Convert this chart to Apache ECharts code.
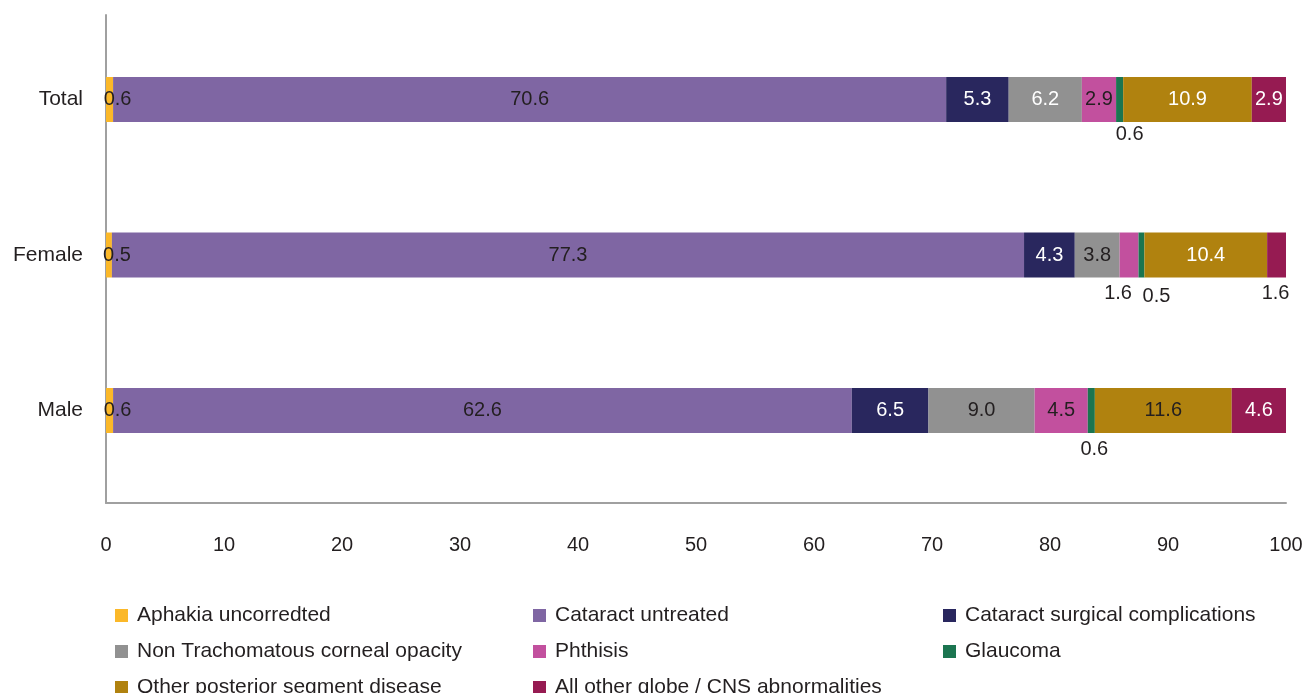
<!DOCTYPE html>
<html>
<head>
<meta charset="utf-8">
<script src="https://cdn.jsdelivr.net/npm/echarts@6/dist/echarts.min.js"></script>
<style>
html,body{margin:0;padding:0;background:#fff;}
#chart{width:1306px;height:693px;}
</style>
</head>
<body>
<div id="chart"></div>
<script>
// ---- data ----
const categories = ['Male', 'Female', 'Total'];
const xTicks = [0, 10, 20, 30, 40, 50, 60, 70, 80, 90, 100];
const seriesNames = [
  'Aphakia uncorredted',
  'Cataract untreated',
  'Cataract surgical complications',
  'Non Trachomatous corneal opacity',
  'Phthisis',
  'Glaucoma',
  'Other posterior segment disease',
  'All other globe / CNS abnormalities'
];
const aphakia = [0.6, 0.5, 0.6];
const cataractUntreated = [62.6, 77.3, 70.6];
const surgicalComplications = [6.5, 4.3, 5.3];
const cornealOpacity = [9.0, 3.8, 6.2];
const phthisis = [4.5, 1.6, 2.9];
const glaucoma = [0.6, 0.5, 0.6];
const posteriorSegment = [11.6, 10.4, 10.9];
const otherGlobe = [4.6, 1.6, 2.9];

// ---- styling ----
const colors = ['#FBB829', '#7F66A3', '#29275E', '#919191', '#C2509E', '#1B7550', '#B0820F', '#961B52'];
const DARK = '#231F20';
const WHITE = '#FFFFFF';
const FONT = 'Liberation Sans, Arial, sans-serif';

const inside = (color, offset) => ({ show: true, position: 'inside', color: color, offset: offset || [0, 0] });
const below = (dx, dist) => ({ show: true, position: 'bottom', distance: dist, color: DARK, offset: [dx, 0] });

// label styles per series per category (Male, Female, Total)
const labelSpecs = [
  [inside(DARK, [8, 0]), inside(DARK, [8, 0]), inside(DARK, [8, 0])],
  [inside(DARK), inside(DARK), inside(DARK)],
  [inside(WHITE), inside(WHITE), inside(WHITE)],
  [inside(DARK), inside(DARK), inside(WHITE)],
  [inside(DARK), below(-11, 6), inside(DARK)],
  [below(3, 6), below(15, 9), below(10, 2)],
  [inside(DARK), inside(WHITE), inside(WHITE)],
  [inside(WHITE), below(-1, 6), inside(WHITE)]
];
const seriesValues = [aphakia, cataractUntreated, surgicalComplications, cornealOpacity, phthisis, glaucoma, posteriorSegment, otherGlobe];

const series = seriesNames.map((name, i) => ({
  name: name,
  type: 'bar',
  stack: 'all',
  xAxisIndex: 0,
  yAxisIndex: 0,
  barWidth: 45,
  itemStyle: { color: colors[i] },
  label: { fontSize: 20, fontFamily: FONT, formatter: p => Number(p.value).toFixed(1) },
  emphasis: { disabled: true },
  data: seriesValues[i].map((v, j) => ({ value: v, label: labelSpecs[i][j] }))
}));

const legendCols = [
  [seriesNames[0], seriesNames[3], seriesNames[6]],
  [seriesNames[1], seriesNames[4], seriesNames[7]],
  [seriesNames[2], seriesNames[5]]
];
const legendLefts = [115, 533, 943];
const legends = legendCols.map((d, k) => ({
  data: d,
  orient: 'vertical',
  left: legendLefts[k],
  top: 605,
  height: 150,
  padding: 0,
  icon: 'rect',
  itemWidth: 13,
  itemHeight: 13,
  itemGap: 15,
  selectedMode: false,
  textStyle: { fontSize: 21, fontFamily: FONT, color: DARK, lineHeight: 20, padding: [0, 0, 0, 4] }
}));

const axisColor = '#A0A0A0';
const option = {
  animation: false,
  backgroundColor: '#fff',
  legend: legends,
  grid: [
    { left: 106, right: 20, top: 21.75, bottom: 204.75 },
    { left: 106, right: 20, top: 15, bottom: 190 }
  ],
  xAxis: [
    { gridIndex: 0, type: 'value', min: 0, max: 100, show: false },
    {
      gridIndex: 1, type: 'value', min: xTicks[0], max: xTicks[xTicks.length - 1], interval: 10,
      axisLine: { show: true, lineStyle: { color: axisColor, width: 2 } },
      axisTick: { show: false },
      splitLine: { show: false },
      axisLabel: { fontSize: 20, fontFamily: FONT, color: DARK, margin: 32 }
    }
  ],
  yAxis: [
    {
      gridIndex: 0, type: 'category', data: categories,
      axisLine: { show: false }, axisTick: { show: false }, splitLine: { show: false },
      axisLabel: { fontSize: 21, fontFamily: FONT, color: DARK, margin: 23 }
    },
    {
      gridIndex: 1, type: 'value', min: 0, max: 1,
      axisLine: { show: true, lineStyle: { color: axisColor, width: 2 } },
      axisTick: { show: false }, axisLabel: { show: false }, splitLine: { show: false }
    }
  ],
  series: series
};

const chart = echarts.init(document.getElementById('chart'), null, { renderer: 'canvas' });
chart.setOption(option);
</script>
</body>
</html>
